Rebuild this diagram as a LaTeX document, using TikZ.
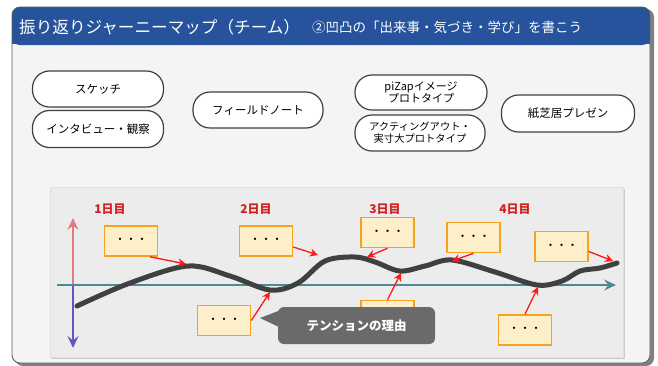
\documentclass[tikz,border=0pt]{standalone}
\usepackage{fontspec}
\newfontfamily\jp{Noto Sans CJK JP}
\usetikzlibrary{arrows.meta}
\definecolor{headerblue}{RGB}{38,83,155}
\definecolor{bodybg}{RGB}{244,244,244}
\definecolor{chartbg}{RGB}{236,236,236}
\definecolor{boxfill}{RGB}{253,239,201}
\definecolor{boxline}{RGB}{247,162,30}
\definecolor{curvegray}{RGB}{64,64,64}
\definecolor{axisteal}{RGB}{75,138,151}
\definecolor{arrred}{RGB}{255,25,25}
\definecolor{dayred}{RGB}{212,32,32}
\definecolor{uparr}{RGB}{224,123,128}
\definecolor{downarr}{RGB}{106,82,184}
\definecolor{calloutgray}{RGB}{106,106,106}
\tikzset{
  pill/.style={draw=black!75, line width=1.2pt, fill=white, rounded corners=17pt,
    minimum width=131pt, minimum height=36pt, inner sep=1pt, align=center,
    font=\jp\fontsize{11.5}{13}\selectfont},
  dotbox/.style={draw=boxline, line width=1.6pt, fill=boxfill, minimum width=53pt,
    minimum height=30pt, inner sep=0pt, font=\jp\fontsize{11}{11}\selectfont},
  daylabel/.style={text=dayred, font=\jp\bfseries\fontsize{12}{12}\selectfont},
  redarrow/.style={draw=arrred, line width=1.3pt, -{Stealth[length=8pt,width=8pt,inset=2.5pt]}},
}
\begin{document}
\begin{tikzpicture}[x=1pt,y=-1pt]
\useasboundingbox (0,0) rectangle (658,365);
\fill[white] (0,0) rectangle (658,365);
% outer panel with shadow
\fill[black!50, rounded corners=8pt] (15,9) rectangle (654,366);
\fill[bodybg, rounded corners=8pt] (12,7) rectangle (650,363);
\fill[headerblue, rounded corners=8pt] (12,7) rectangle (650,45);
\fill[headerblue] (12,25) rectangle (650,44);
\draw[black!65, line width=0.8pt, rounded corners=8pt] (12,7) rectangle (650,363);
% title
\node[anchor=west, text=white, inner sep=0pt, font=\jp\fontsize{16.6}{17}\selectfont] (title1) at (19,27) {振り返りジャーニーマップ（チーム）};
\node[anchor=west, text=white, inner sep=0pt, font=\jp\fontsize{13.5}{14}\selectfont] (title2) at (312,27) {②凹凸の「出来事・気づき・学び」を書こう};
% pills
\node[pill] (p1) at (98,89) {スケッチ};
\node[pill, minimum height=37pt] (p2) at (98,129) {インタビュー・観察};
\node[pill, minimum width=130pt] (p3) at (258,110) {フィールドノート};
\node[pill, minimum width=132pt, minimum height=35pt, font=\jp\fontsize{11}{12.5}\selectfont] (p4) at (421,92.5) {piZapイメージ\\プロトタイプ};
\node[pill, minimum width=130pt, font=\jp\fontsize{10.3}{12}\selectfont] (p5) at (420,133) {アクティングアウト・\\実寸大プロトタイプ};
\node[pill, minimum width=133pt, minimum height=37pt] (p6) at (568,113.5) {紙芝居プレゼン};
% chart panel
\fill[black!20] (51.5,188.5) rectangle (624.5,358.5);
\fill[chartbg, draw=black!12, line width=0.6pt] (50,187) rectangle (623,357);
% day labels
\node[daylabel] (d1) at (110,209) {1日目};
\node[daylabel] (d2) at (256,209) {2日目};
\node[daylabel] (d3) at (385,209) {3日目};
\node[daylabel] (d4) at (515,209) {4日目};
% axes
\coordinate (vtop) at (73,218);
\coordinate (vmid) at (73,285);
\coordinate (vbot) at (73,348);
\coordinate (axs) at (57,285);
\coordinate (axe) at (616,285);
\draw[uparr, line width=2pt, -{Stealth[length=12pt,width=11pt,inset=4.5pt]}] (vmid) -- (vtop);
\draw[downarr, line width=2pt, -{Stealth[length=12pt,width=11pt,inset=4.5pt]}] (vmid) -- (vbot);
\draw[axisteal, line width=2.2pt, -{Stealth[length=12pt,width=11pt,inset=4.5pt]}] (axs) -- (axe);
% curve
\draw[curvegray, line width=5pt, line cap=round, line join=round]
  plot[smooth, tension=0.55] coordinates {(77,306) (130,283) (188,266) (230,276) (270,290) (298,283) (325,261) (355,257) (375,262) (400,271) (425,266) (452,260) (495,272) (537,285) (562,281) (580,271) (600,268) (617,263)};
% arrow targets on the curve
\coordinate (c1) at (186,264);
\coordinate (c2) at (318,255);
\coordinate (c3) at (270,292);
\coordinate (c4) at (367,257);
\coordinate (c5) at (452,261);
\coordinate (c6) at (613,261);
\coordinate (c7) at (401,273);
\coordinate (c8) at (538,287);
% boxes
\node[dotbox] (b1) at (131,241) {・・・};
\node[dotbox] (b2) at (266,241) {・・・};
\node[dotbox] (b3) at (224,320.5) {・・・};
\node[dotbox] (b4) at (387.5,232.5) {・・・};
\node[dotbox] (b5) at (473.5,237.5) {・・・};
\node[dotbox] (b6) at (561.5,246.5) {・・・};
\node[dotbox] (b7) at (387.5,315.5) {・・・};
\node[dotbox] (b8) at (525,330) {・・・};
% red arrows
\draw[redarrow] ([xshift=19pt]b1.south) -- (c1);
\draw[redarrow] ([yshift=-6pt]b2.east) -- (c2);
\draw[redarrow] (b3.east) -- (c3);
\draw[redarrow] (b4.south) -- (c4);
\draw[redarrow] (b5.south) -- (c5);
\draw[redarrow] ([yshift=-5pt]b6.east) -- (c6);
\draw[redarrow] (b7.north) -- (c7);
\draw[redarrow] (b8.north) -- (c8);
% callout
\coordinate (ctip) at (260,318);
\fill[calloutgray] (ctip) -- (281,310) -- (281,328) -- cycle;
\node[fill=calloutgray, rounded corners=6pt, minimum width=157pt, minimum height=37pt, inner sep=0pt,
  text=white, font=\jp\bfseries\fontsize{12.5}{13}\selectfont] (callout) at (356.5,325.5) {テンションの理由};
\end{tikzpicture}
\end{document}
